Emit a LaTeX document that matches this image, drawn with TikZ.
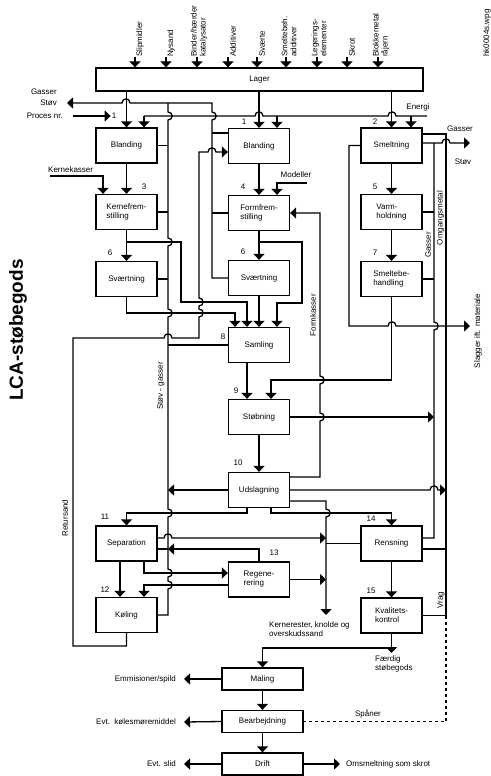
\documentclass[tikz,border=0pt]{standalone}
\usepackage{fontspec}
\setmainfont{Liberation Sans}
\usetikzlibrary{arrows.meta}
\newcommand\lblsize{\fontsize{8}{9}\selectfont}
\tikzset{
  box/.style={draw, line width=1.3pt, minimum width=61pt, minimum height=35pt, align=left, font=\lblsize, inner sep=1pt},
  flatbox/.style={box, minimum width=81pt, minimum height=22pt},
  wire/.style={line width=1.3pt},
  arr/.style={wire, -{Triangle[length=6pt,width=11pt]}},
  lbl/.style={font=\lblsize, inner sep=1pt},
  vlbl/.style={lbl, rotate=90},
}
\begin{document}
\begin{tikzpicture}[x=1pt,y=-1pt]
\useasboundingbox (0,0) rectangle (490,776);
\node[rotate=90, font=\bfseries\fontsize{19}{22}\selectfont, inner sep=0pt] (title) at (18,330) {LCA-støbegods};
\node[vlbl] (fileid) at (487,33) {hk0004s.wpg};
% store and raw materials
\node[box, minimum width=327pt, minimum height=23pt] (lager) at (259.5,79.5) {Lager};
\foreach \x/\tx/\t [count=\i] in {135/140/Slipmidler, 166/171/Nysand, 197/199/{Binder/hærder\\katalysator}, 228/233/Additiver, 257/262/Sværte, 286/289/{Smeltebeh.\\additiver}, 317/319/{Legerings-\\elementer}, 347/352/Skrot, 378/381/{Blokkemetal\\råjern}}{
  \node[vlbl, anchor=west, align=left] (in\i) at (\tx,58) {\t};
  \draw[arr] (\x,57) -- (\x,0 |- lager.north);
}
% process boxes
\node[box] (blandA) at (126.5,145.5) {Blanding};
\node[box] (kerne) at (126.5,212) {Kernefrem-\\stilling};
\node[box] (svaertA) at (126.5,279) {Sværtning};
\node[box] (blandB) at (259,146) {Blanding};
\node[box] (form) at (259,213) {Formfrem-\\stilling};
\node[box] (svaertB) at (259,278) {Sværtning};
\node[box] (samling) at (259,345) {Samling};
\node[box] (stobning) at (259,417) {Støbning};
\node[box] (udslag) at (259,490) {Udslagning};
\node[box] (smelt) at (391.5,145.5) {Smeltning};
\node[box] (varm) at (391.5,212) {Varm-\\holdning};
\node[box] (smeltbeh) at (391.5,279) {Smeltebe-\\handling};
\node[box] (separation) at (126.5,543.5) {Separation};
\node[box] (koling) at (126.5,615) {Køling};
\node[box] (regen) at (259,579.5) {Regene-\\rering};
\node[box] (rensning) at (391.5,543.5) {Rensning};
\node[box] (kvalitet) at (391.5,615.5) {Kvalitets-\\kontrol};
\node[flatbox] (maling) at (262.5,679) {Maling};
\node[flatbox] (bearb) at (262.5,721.5) {Bearbejdning};
\node[flatbox] (drift) at (262.5,764) {Drift};
% process numbers
\node[lbl] (nr1) at (114,116) {1};
\node[lbl] (nr1b) at (244,122) {1};
\node[lbl] (nr2) at (375,122) {2};
\node[lbl] (nr3) at (144,187) {3};
\node[lbl] (nr4) at (243,187) {4};
\node[lbl] (nr5) at (375,187) {5};
\node[lbl] (nr6a) at (110,253) {6};
\node[lbl] (nr6b) at (243,252) {6};
\node[lbl] (nr7) at (375,253) {7};
\node[lbl] (nr8) at (223,337) {8};
\node[lbl] (nr9) at (236,391) {9};
\node[lbl] (nr10) at (238,463) {10};
\node[lbl] (nr11) at (105,517) {11};
\node[lbl] (nr12) at (105,590) {12};
\node[lbl] (nr13) at (274,553) {13};
\node[lbl] (nr14) at (371,519) {14};
\node[lbl] (nr15) at (371,591) {15};
% free texts
\node[lbl, anchor=east, inner xsep=10pt] (gasL) at (67,92) {Gasser};
\node[lbl, anchor=east, inner xsep=10pt] (stovL) at (67,103) {Støv};
\node[lbl, anchor=east, inner xsep=10pt] (procnr) at (73,116) {Proces nr.};
\node[lbl] (energi) at (418,107) {Energi};
\node[lbl, anchor=south west] (kernekas) at (47,174) {Kernekasser};
\node[lbl] (modeller) at (296,175) {Modeller};
\node[lbl] (gasR) at (460,129) {Gasser};
\node[lbl] (stovR) at (463,162) {Støv};
\node[vlbl] (stovgas) at (161,386) {Støv - gasser};
\node[vlbl] (retur) at (65,518) {Retursand};
\node[vlbl] (formkas) at (313,315) {Formkasser};
\node[vlbl] (gasbus) at (428,245) {Gasser};
\node[vlbl] (omg) at (440.5,218) {Omgangsmetal};
\node[vlbl] (vrag) at (441,600) {Vrag};
\node[vlbl] (slagger) at (478,331) {Slagger ift. materiale};
\node[lbl, anchor=north west, align=left] (kernerest) at (268,620) {Kernerester, knolde og\\overskudssand};
\node[lbl, anchor=north west, align=left] (faerdig) at (374,654) {Færdig\\støbegods};
\node[lbl, anchor=east, inner xsep=8pt] (emm) at (184,679) {Emmisioner/spild};
\node[lbl, anchor=east, inner xsep=8pt] (kole) at (184,722) {Evt.\ \ kølesmøremiddel};
\node[lbl, anchor=east, inner xsep=8pt] (slid) at (184,764) {Evt. slid};
\node[lbl, anchor=west, inner xsep=6pt] (omsm) at (340,764) {Omsmeltning som skrot};
\node[lbl] (spaner) at (368,714) {Spåner};
\coordinate (energiin) at (427,116);
\coordinate (kkin) at (50,176);
\coordinate (modin) at (307,183);
% feeds from Lager and energy
\draw[arr] (blandA.north |- lager.south) -- (blandA.north);
\draw[arr] (blandB.north |- lager.south) -- (blandB.north);
\draw[arr] (smelt.north |- lager.south) -- (smelt.north);
\draw[wire] (energiin) -- (396,116) .. controls (396,110.5) and (388,110.5) .. (388,116) -- (263,116) .. controls (263,110.5) and (255,110.5) .. (255,116) -- (144,116);
\draw[arr] (144,116) -- (144,0 |- blandA.north);
\draw[arr] (277,116) -- (277,0 |- blandB.north);
\draw[arr] (411,116) -- (411,0 |- smelt.north);
\draw[arr] (procnr.east) -- (nr1.west);
% dust and gas, middle line
\draw[arr] (svaertB.west) -- (212,278) -- (212,120) .. controls (217.5,120) and (217.5,112) .. (212,112) -- (212,103) -- (130,103) .. controls (130,97.5) and (122,97.5) .. (122,103) -- (stovL.east);
\draw[wire] (blandB.west |- 0,133) -- (212,133);
\draw[wire] (form.west) -- (form.west -| 212,0);
% dust and gas, left line
\draw[wire] (168,103) -- (168,112) .. controls (173.5,112) and (173.5,120) .. (168,120) -- (168,238) .. controls (173.5,238) and (173.5,246) .. (168,246) -- (168,309) .. controls (173.5,309) and (173.5,317) .. (168,317) -- (168,509) .. controls (173.5,509) and (173.5,517) .. (168,517) -- (168,569) .. controls (173.5,569) and (173.5,577) .. (168,577) -- (168,581) .. controls (173.5,581) and (173.5,589) .. (168,589) -- (168,615) -- (koling.east);
\draw[wire] (blandA.east) -- (blandA.east -| 168,0);
\draw[wire] (kerne.east) -- (kerne.east -| 168,0);
\draw[wire] (svaertA.east) -- (svaertA.east -| 168,0);
\draw[wire] (samling.west) -- (samling.west -| 168,0);
\draw[arr] (udslag.west) -- (udslag.west -| 168,0);
\draw[wire] (separation.east |- 0,549) -- (168,549);
\draw[arr] (regen.north) -- (259,549) -- (168,549);
% return sand
\draw[arr] (koling.south) -- (koling.south |- 0,646) -- (73,646) -- (73,338) -- (164,338) .. controls (164,332.5) and (172,332.5) .. (172,338) -- (199,338) -- (199,317) .. controls (204.5,317) and (204.5,309) .. (199,309) -- (199,306) .. controls (204.5,306) and (204.5,298) .. (199,298) -- (199,152) -- (208,152) .. controls (208,146.5) and (216,146.5) .. (216,152) -- (blandB.west |- 0,152);
% cores
\draw[arr] (blandA.south) -- (kerne.north);
\draw[arr] (kkin) -- (103,176) -- (103,0 |- kerne.north);
\draw[arr] (kerne.south) -- (svaertA.north);
\draw[arr] (126.5,242) -- (181,242) -- (181,302) -- (247,302) -- (247,0 |- samling.north);
\draw[arr] (svaertA.south) -- (126.5,313) -- (235,313) -- (235,0 |- samling.north);
% moulds
\draw[arr] (blandB.south) -- (form.north);
\draw[arr] (modin) -- (277,183) -- (277,0 |- form.north);
\draw[arr] (form.south) -- (svaertB.north);
\draw[arr] (259,242) -- (302,242) -- (302,303) -- (277,303) -- (277,0 |- samling.north);
\draw[arr] (svaertB.south) -- (samling.north);
\draw[arr] (247,0 |- samling.south) -- (247,0 |- stobning.north);
\draw[arr] (smeltbeh.south) -- (391.5,380) -- (271,380) -- (271,0 |- stobning.north);
\draw[arr] (stobning.south) -- (udslag.north);
\draw[arr] (stobning.east) -- (434,417);
\draw[arr] (udslag.east |- 0,477) -- (320,477) -- (320,421) .. controls (325.5,421) and (325.5,413) .. (320,413) -- (320,384) .. controls (325.5,384) and (325.5,376) .. (320,376) -- (320,213) -- (form.east);
% melting
\draw[arr] (smelt.south) -- (varm.north);
\draw[arr] (varm.south) -- (smeltbeh.north);
\draw[arr] (smelt.west) -- (349,145.5) -- (349,326) -- (388,326) .. controls (388,320.5) and (396,320.5) .. (396,326) -- (470,326);
\draw[wire] (434,143) -- (434,322) .. controls (439.5,322) and (439.5,330) .. (434,330) -- (434,538) -- (rensning.east |- 0,538);
\draw[wire] (varm.east) -- (varm.east -| 434,0);
\draw[wire] (smeltbeh.east) -- (smeltbeh.east -| 434,0);
\draw[arr] (smelt.east |- 0,143) -- (442,143) .. controls (442,137.5) and (450,137.5) .. (450,143) -- (470,143);
\draw[wire] (smelt.east |- 0,134) -- (446,134) -- (446,615.5) -- (kvalitet.east);
\draw[wire, dashed] (446,615.5) -- (446,721.5) -- (bearb.east);
\draw[wire] (rensning.east |- 0,549) -- (446,549);
\draw[arr] (udslag.east) -- (430,490) .. controls (430,484.5) and (438,484.5) .. (438,490) -- (446,490);
% shake-out, cleaning
\draw[arr] (udslag.east |- 0,501) -- (326,501) -- (326,509) .. controls (331.5,509) and (331.5,517) .. (326,517) -- (326,615);
\draw[arr] ([xshift=-12pt]udslag.south) -- (247,513) -- (126.5,513) -- (separation.north);
\draw[arr] ([xshift=12pt]udslag.south) -- (271,513) -- (391.5,513) -- (rensning.north);
\draw[arr] (separation.east |- 0,538) -- (164,538) .. controls (164,532.5) and (172,532.5) .. (172,538) -- (326,538);
\draw[wire] (rensning.west) -- (rensning.west -| 326,0);
\draw[arr] ([xshift=-6.5pt]separation.south) -- ([xshift=-6.5pt]koling.north);
\draw[arr] ([xshift=17.5pt]separation.south) -- (144,573) -- (regen.west |- 0,573);
\draw[arr] (regen.west |- 0,585) -- (144,585) -- ([xshift=17.5pt]koling.north);
\draw[arr] (regen.east) -- (326,579.5);
\draw[arr] (rensning.south) -- (kvalitet.north);
\draw[arr] (kvalitet.south) -- (391.5,653);
\draw[arr] (391.5,648) -- (262.5,648) -- (maling.north);
% use phase
\draw[arr] (maling.south) -- (bearb.north);
\draw[arr] (bearb.south) -- (drift.north);
\draw[arr] (maling.west) -- (emm.east);
\draw[arr] (bearb.west) -- (kole.east);
\draw[arr] (drift.west) -- (slid.east);
\draw[arr] (drift.east) -- (omsm.west);
\end{tikzpicture}
\end{document}
